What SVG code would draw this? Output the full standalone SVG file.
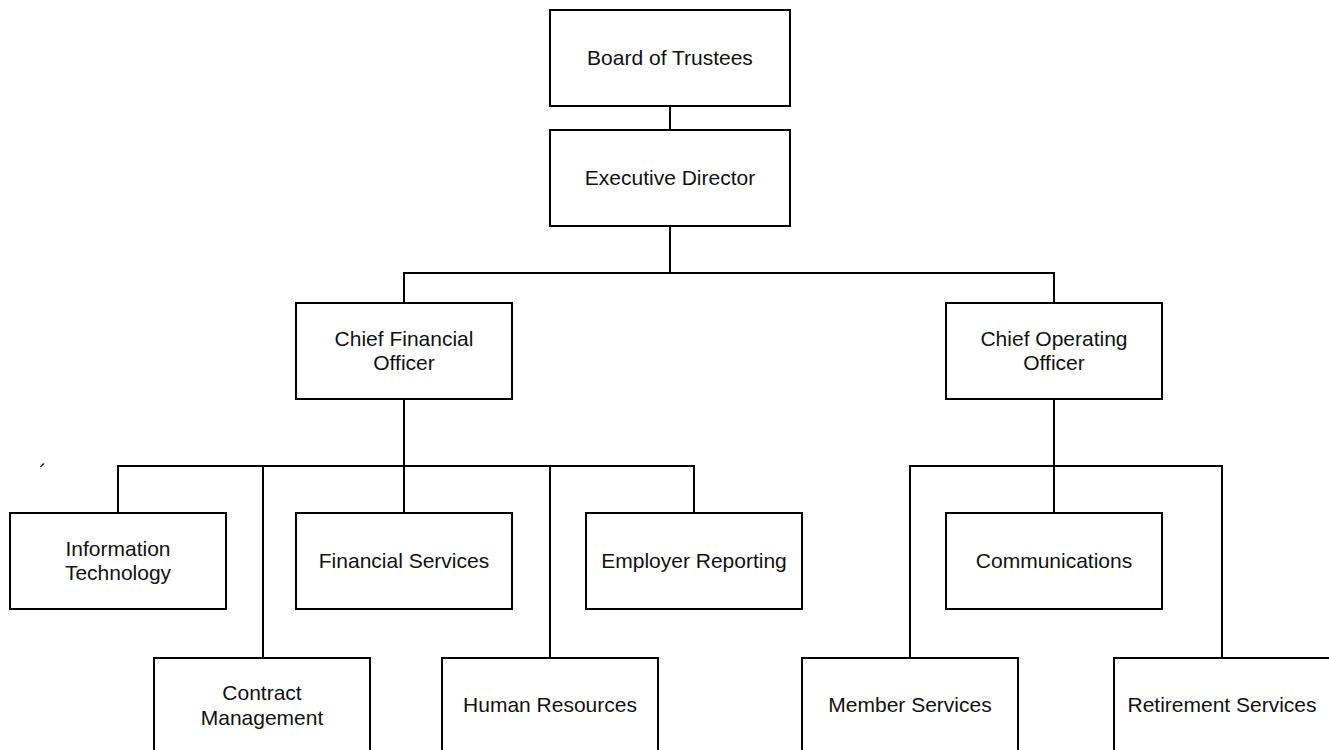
<svg xmlns="http://www.w3.org/2000/svg" width="1329" height="750" viewBox="0 0 1329 750">
<style>
.box{fill:#fff;stroke:#000;stroke-width:2}
.lbl{font-family:"Liberation Sans",Arial,sans-serif;font-size:21px;fill:#111;text-anchor:middle}
.con{fill:none;stroke:#000;stroke-width:2}
</style>
<rect width="1329" height="750" fill="#fff"/>
<g id="connectors" class="con">
<path d="M670,106V130"/>
<path d="M670,226V273M404,303V273H1054V303"/>
<path d="M404,399V466M118,513V466H694V513M263,466V658M404,466V513M550,466V658"/>
<path d="M1054,399V466M910,658V466H1222V658M1054,466V513"/>
</g>
<g id="board"><rect class="box" x="550" y="10" width="240" height="96"/><text class="lbl" x="670" y="65">Board of Trustees</text></g>
<g id="exec"><rect class="box" x="550" y="130" width="240" height="96"/><text class="lbl" x="670" y="185">Executive Director</text></g>
<g id="cfo"><rect class="box" x="296" y="303" width="216" height="96"/><text class="lbl" x="404" y="345.5">Chief Financial</text><text class="lbl" x="404" y="370">Officer</text></g>
<g id="coo"><rect class="box" x="946" y="303" width="216" height="96"/><text class="lbl" x="1054" y="345.5">Chief Operating</text><text class="lbl" x="1054" y="370">Officer</text></g>
<g id="it"><rect class="box" x="10" y="513" width="216" height="96"/><text class="lbl" x="118" y="555.5">Information</text><text class="lbl" x="118" y="580">Technology</text></g>
<g id="fin"><rect class="box" x="296" y="513" width="216" height="96"/><text class="lbl" x="404" y="568">Financial Services</text></g>
<g id="emp"><rect class="box" x="586" y="513" width="216" height="96"/><text class="lbl" x="694" y="568">Employer Reporting</text></g>
<g id="comm"><rect class="box" x="946" y="513" width="216" height="96"/><text class="lbl" x="1054" y="568">Communications</text></g>
<g id="contract"><rect class="box" x="154" y="658" width="216" height="110"/><text class="lbl" x="262" y="700">Contract</text><text class="lbl" x="262" y="724.5">Management</text></g>
<g id="hr"><rect class="box" x="442" y="658" width="216" height="110"/><text class="lbl" x="550" y="712">Human Resources</text></g>
<g id="member"><rect class="box" x="802" y="658" width="216" height="110"/><text class="lbl" x="910" y="712">Member Services</text></g>
<g id="retire"><rect class="box" x="1114" y="658" width="216" height="110"/><text class="lbl" x="1222" y="712">Retirement Services</text></g>
<text class="lbl" x="43" y="480" style="font-size:22px">´</text>
</svg>
